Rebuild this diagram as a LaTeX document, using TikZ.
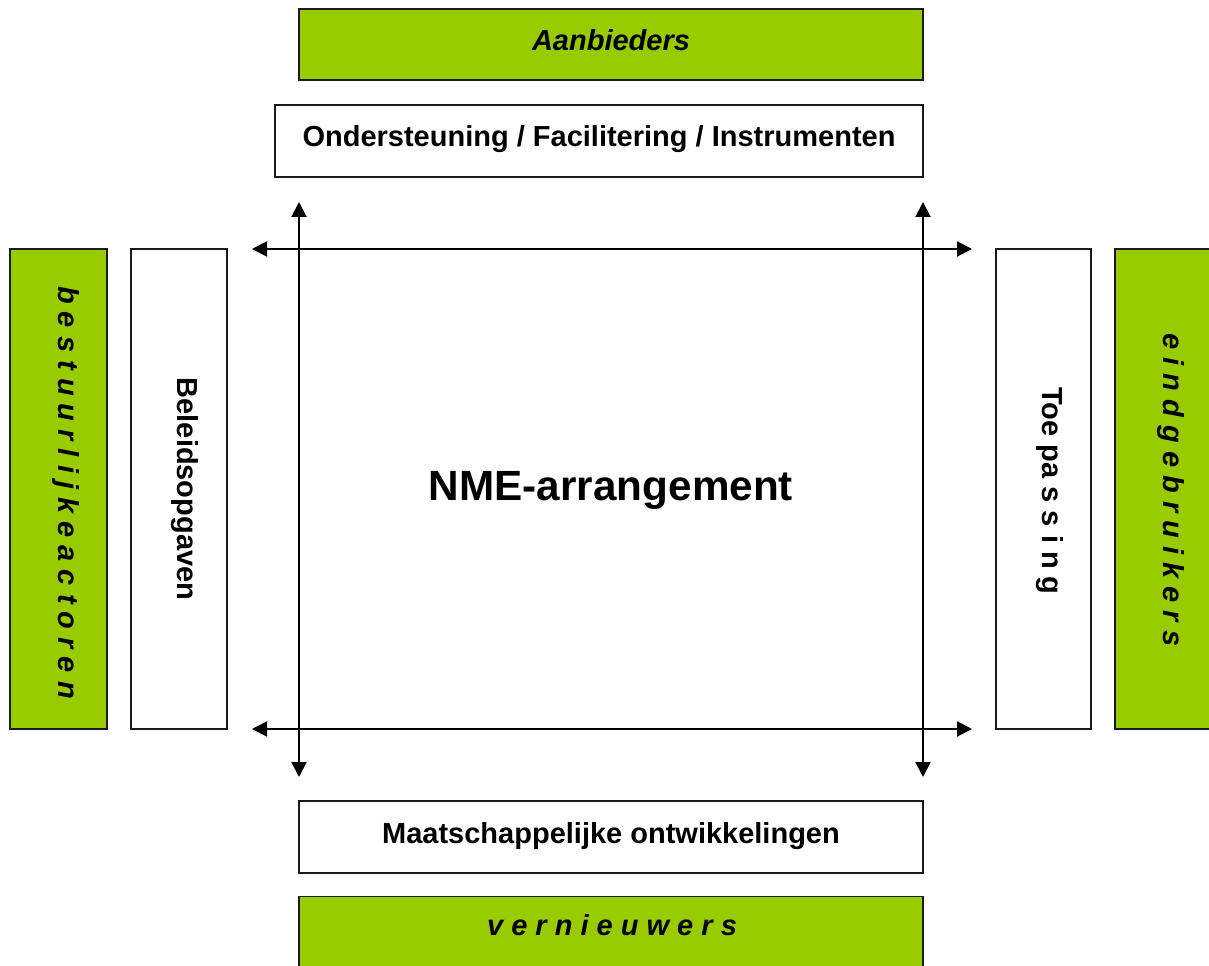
\documentclass[tikz,border=0pt]{standalone}
\usepackage{fontspec}
\setmainfont{Liberation Sans}
\usetikzlibrary{arrows.meta}
\definecolor{nmegreen}{HTML}{99CC00}
\definecolor{nmeborder}{HTML}{1A1A1A}
\begin{document}
\begin{tikzpicture}[x=0.75pt,y=-0.75pt,
  box/.style={draw=nmeborder, line width=1.1pt, fill=white, inner sep=0pt, outer sep=0pt},
  greenbox/.style={box, fill=nmegreen},
  lbl/.style={font=\fontsize{21.75}{26}\selectfont\bfseries, inner sep=0pt, anchor=base},
  ilbl/.style={lbl, font=\fontsize{21.75}{26}\selectfont\bfseries\itshape},
  vlbl/.style={lbl, rotate=-90},
  vilbl/.style={ilbl, rotate=-90},
  biarrow/.style={line width=1.5pt, {Triangle[length=11.25pt,width=11.25pt]}-{Triangle[length=11.25pt,width=11.25pt]}}
]
\useasboundingbox (0,0) rectangle (1209,966);
\clip (0,0) rectangle (1209,966);
% boxes
\node[greenbox, minimum width=468pt, minimum height=53.25pt] (aanb) at (611,44.5) {};
\node[box, minimum width=486pt, minimum height=54pt] (onder) at (599,141) {};
\node[greenbox, minimum width=72.75pt, minimum height=360pt] (best) at (58.5,489) {};
\node[box, minimum width=72pt, minimum height=360pt] (beleid) at (179,489) {};
\node[box, minimum width=71.25pt, minimum height=360pt] (toep) at (1043.5,489) {};
\node[greenbox, minimum width=75pt, minimum height=360pt] (eind) at (1165,489) {};
\node[box, minimum width=468pt, minimum height=54pt] (maat) at (611,837) {};
\node[greenbox, minimum width=468pt, minimum height=56pt] (vern) at (611,934) {};
% texts
\node[ilbl] (aanbt) at (611,51) {Aanbieders};
\node[lbl] (ondert) at (599,147) {Ondersteuning / Facilitering / Instrumenten};
\node[lbl] (maatt) at (611,843) {Maatschappelijke ontwikkelingen};
\node[ilbl] (vernt) at (612,935) {v e r n i e u w e r s};
\node[vilbl] (bestt) at (58,492.5) {b e s t u u r l i j k e a c t o r e n};
\node[vlbl] (beleidt) at (177,489) {Beleidsopgaven};
\node[vlbl] (toept) at (1042,491) {Toe pa\kern0.28em s s i n g};
\node[vilbl] (eindt) at (1163,490) {e i n d g e b r u i k e r s};
\node[lbl, font=\fontsize{31.7}{38}\selectfont\bfseries] (nme) at (611,500) {NME-arrangement};
% arrow end points
\coordinate (htl) at (252,249);
\coordinate (htr) at (972,249);
\coordinate (hbl) at (252,729);
\coordinate (hbr) at (972,729);
\coordinate (vlt) at (299,202);
\coordinate (vlb) at (299,777);
\coordinate (vrt) at (923,202);
\coordinate (vrb) at (923,777);
\draw[biarrow] (htl) -- (htr);
\draw[biarrow] (hbl) -- (hbr);
\draw[biarrow] (vlt) -- (vlb);
\draw[biarrow] (vrt) -- (vrb);
\end{tikzpicture}
\end{document}
